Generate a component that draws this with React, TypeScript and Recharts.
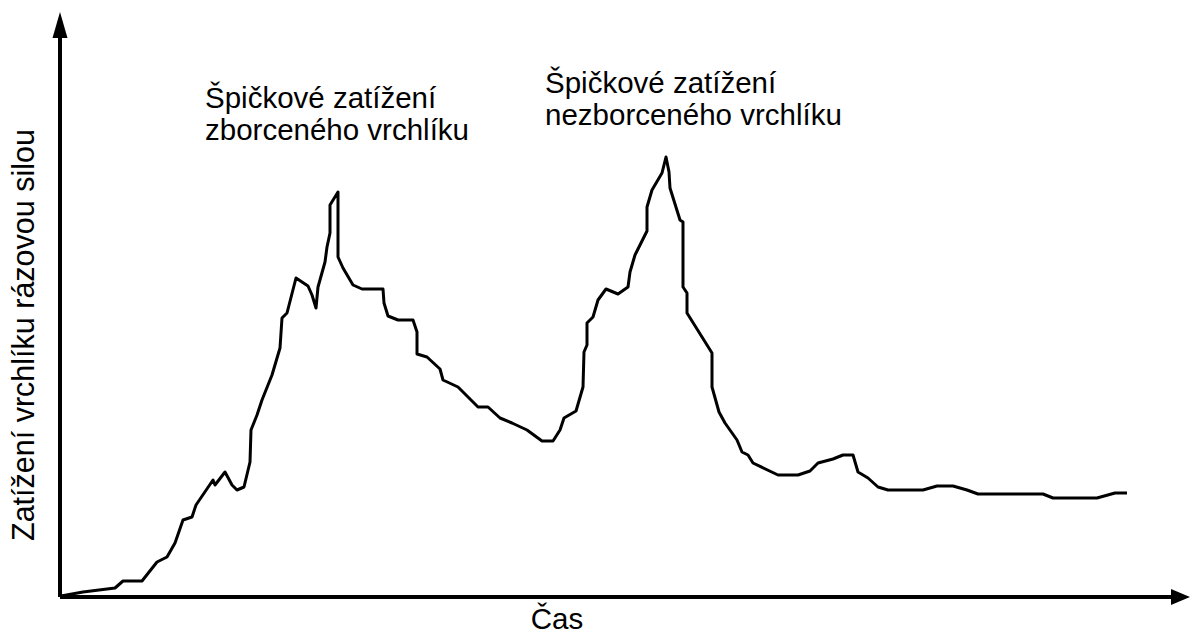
import React from 'react';
import { LineChart, Line, XAxis, YAxis, ReferenceLine, ReferenceDot } from 'recharts';

const times = [1, 23, 55, 63, 82, 97, 107, 115, 123, 132, 136, 153, 155, 165, 172, 177, 184, 190, 191, 197, 202, 212, 220, 222, 227, 236, 248, 252, 256, 258, 265, 267, 270, 270, 278, 278, 283, 293, 302, 323, 324, 328, 338, 353, 357, 357, 367, 380, 383, 398, 418, 428, 440, 452, 467, 482, 493, 500, 504, 516, 523, 524, 527, 527, 533, 538, 546, 558, 568, 570, 575, 587, 587, 592, 602, 606, 609, 610, 620, 623, 623, 627, 627, 652, 652, 659, 665, 677, 682, 688, 693, 718, 738, 750, 758, 773, 783, 793, 798, 808, 818, 828, 863, 877, 893, 907, 918, 983, 993, 1037, 1055, 1067];
const loads = [1, 5, 9, 16, 16, 35, 40, 54, 77, 80, 92, 117, 112, 125, 112, 107, 110, 135, 167, 182, 197, 222, 249, 279, 284, 319, 311, 302, 289, 310, 335, 350, 364, 392, 405, 340, 329, 312, 308, 308, 294, 281, 277, 277, 265, 243, 240, 228, 217, 210, 190, 190, 179, 174, 167, 156, 156, 167, 179, 186, 210, 245, 252, 274, 280, 297, 308, 303, 310, 325, 342, 366, 390, 407, 424, 440, 425, 409, 377, 375, 310, 304, 284, 244, 210, 185, 174, 157, 145, 142, 134, 122, 122, 126, 134, 138, 142, 142, 125, 119, 110, 107, 107, 111, 111, 107, 103, 103, 99, 99, 104, 104];

const peakLabels = [
  { t: 145, v: 489, lines: ['Špičkové zatížení', 'zborceného vrchlíku'] },
  { t: 485, v: 504, lines: ['Špičkové zatížení', 'nezborceného vrchlíku'] },
];
const yTitle = 'Zatížení vrchlíku rázovou silou';
const xTitle = 'Čas';

const data = times.map((t, i) => ({ t, load: loads[i] }));

const FONT = '"Liberation Sans", Arial, sans-serif';
const FS = 29.5;

export default function App() {
  return (
    <div style={{ position: 'absolute', left: 0, top: 0, background: '#fff' }}>
      <LineChart width={1192} height={634} data={data} margin={{ top: 12, right: 2, bottom: 37, left: 60 }}>
        <XAxis type="number" dataKey="t" domain={[0, 1130]} hide />
        <YAxis type="number" domain={[0, 585]} hide />
        <ReferenceLine segment={[{ x: 0, y: 0 }, { x: 1114, y: 0 }]} stroke="#000" strokeWidth={4} />
        <ReferenceLine segment={[{ x: 0, y: 0 }, { x: 0, y: 560 }]} stroke="#000" strokeWidth={4} />
        <ReferenceDot
          x={1130}
          y={0}
          ifOverflow="visible"
          shape={(p: any) => (
            <polygon points={`${p.cx},${p.cy} ${p.cx - 19},${p.cy - 8} ${p.cx - 19},${p.cy + 8}`} fill="#000" />
          )}
        />
        <ReferenceDot
          x={0}
          y={585}
          ifOverflow="visible"
          shape={(p: any) => (
            <polygon points={`${p.cx},${p.cy} ${p.cx - 7.5},${p.cy + 26} ${p.cx + 7.5},${p.cy + 26}`} fill="#000" />
          )}
        />
        <Line
          type="linear"
          dataKey="load"
          stroke="#000"
          strokeWidth={3}
          dot={false}
          strokeLinejoin="round"
          isAnimationActive={false}
        />
        {peakLabels.map((lb, i) => (
          <ReferenceDot
            key={i}
            x={lb.t}
            y={lb.v}
            ifOverflow="visible"
            shape={(p: any) => (
              <text x={p.cx} y={p.cy} fontFamily={FONT} fontSize={FS} fill="#000">
                <tspan x={p.cx}>{lb.lines[0]}</tspan>
                <tspan x={p.cx} dy={32}>{lb.lines[1]}</tspan>
              </text>
            )}
          />
        ))}
        <ReferenceDot
          x={-26}
          y={262}
          ifOverflow="visible"
          shape={(p: any) => (
            <text
              x={p.cx}
              y={p.cy}
              transform={`rotate(-90, ${p.cx}, ${p.cy})`}
              textAnchor="middle"
              fontFamily={FONT}
              fontSize={30.5}
              fill="#000"
            >
              {yTitle}
            </text>
          )}
        />
        <ReferenceDot
          x={497}
          y={-32}
          ifOverflow="visible"
          shape={(p: any) => (
            <text x={p.cx} y={p.cy} textAnchor="middle" fontFamily={FONT} fontSize={FS} fill="#000">
              {xTitle}
            </text>
          )}
        />
      </LineChart>
    </div>
  );
}
